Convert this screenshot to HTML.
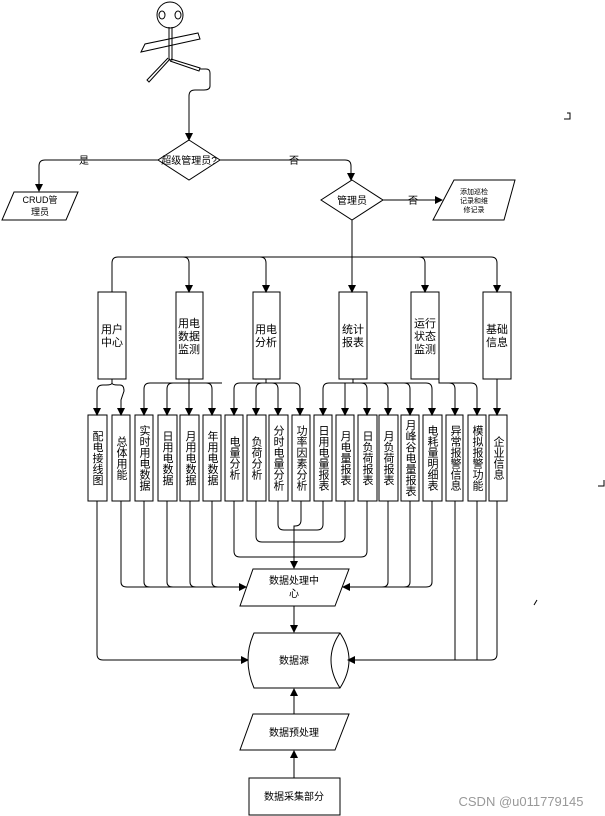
<!DOCTYPE html>
<html><head><meta charset="utf-8"><style>
html,body{margin:0;padding:0;background:#fff;}
svg{display:block;font-family:"Liberation Sans","Noto Sans CJK SC",sans-serif;}
</style></head><body>
<svg width="605" height="816" viewBox="0 0 605 816" xmlns="http://www.w3.org/2000/svg">
<defs><marker id="a" markerWidth="8" markerHeight="8" refX="7" refY="4" orient="auto" markerUnits="userSpaceOnUse"><path d="M0,0 L8,4 L0,8 z" fill="#000"/></marker></defs>
<g fill="none" stroke="#000" stroke-width="1">
<!-- stick figure -->
<circle cx="170" cy="15" r="13"/>
<ellipse cx="162" cy="15" rx="3" ry="4"/><ellipse cx="178" cy="15" rx="3" ry="4"/>
<path d="M141,52 L145,44 L198,33 L200,39 Z"/>
<path d="M169,27 L169,60 L172,60 L172,27"/>
<path d="M170,59 L149,82 L147,80 L168,58"/>
<path d="M171,59 L200,68 L199,71 L170,61"/>
<path d="M200,69 L206,69 Q210,69 210,73 L210,86 Q210,90 204,90 L195,90 Q189,90 189,96 L189,140" marker-end="url(#a)"/>
<!-- diamond 1 -->
<path d="M189,140 L220,160 L189,180 L158,160 Z"/>
<path d="M158,160 L45,160 Q39,160 39,166 L39,191" marker-end="url(#a)"/>
<path d="M220,160 L345,160 Q351,160 351,166 L351,180" marker-end="url(#a)"/>
<!-- CRUD -->
<path d="M14,192 L78,192 L66,220 L2,220 Z"/>
<!-- diamond 2 -->
<path d="M352,180 L383,200 L352,220 L321,200 Z"/>
<path d="M383,200 L442,200" marker-end="url(#a)"/>
<path d="M454,180 L515,180 L504,220 L433,220 Z"/>
<path d="M352,220 L352,292" marker-end="url(#a)"/>
<!-- bus -->
<path d="M112,292 L112,263 Q112,257 118,257 L491,257 Q497,257 497,263 L497,292" marker-end="url(#a)"/>
<path d="M183,257 Q189,257 189,263 L189,292" marker-end="url(#a)"/>
<path d="M260,257 Q266,257 266,263 L266,292" marker-end="url(#a)"/>
<path d="M419,257 Q425,257 425,263 L425,292" marker-end="url(#a)"/>
<!-- top boxes -->
<rect x="98" y="292" width="28" height="87"/>
<rect x="176" y="292" width="27" height="87"/>
<rect x="253" y="292" width="27" height="87"/>
<rect x="339" y="292" width="28" height="87"/>
<rect x="411" y="292" width="28" height="87"/>
<rect x="483" y="292" width="28" height="87"/>
<!-- second level branches -->
<path d="M112,379 L112,383 Q112,385 106,385 L103,385 Q97,385 97,391 L97,415" marker-end="url(#a)"/>
<path d="M112,383 Q112,385 118,385 L120,385 Q124,385 124,391 L121,400 L121,415" marker-end="url(#a)"/>
<path d="M189,379 L189,415" marker-end="url(#a)"/>
<path d="M150,383 L222,383"/>
<path d="M150,383 Q144,383 144,389 L144,415" marker-end="url(#a)"/>
<path d="M173,383 Q167,383 167,389 L167,415" marker-end="url(#a)"/>
<path d="M206,383 Q212,383 212,389 L212,415" marker-end="url(#a)"/>
<path d="M266,379 L266,383"/>
<path d="M240,383 L294,383"/>
<path d="M240,383 Q234,383 234,389 L234,415" marker-end="url(#a)"/>
<path d="M262,383 Q256,383 256,389 L256,415" marker-end="url(#a)"/>
<path d="M272,383 Q278,383 278,389 L278,415" marker-end="url(#a)"/>
<path d="M294,383 Q300,383 300,389 L300,415" marker-end="url(#a)"/>
<path d="M353,379 L353,383"/>
<path d="M329,383 L426,383"/>
<path d="M329,383 Q323,383 323,389 L323,415" marker-end="url(#a)"/>
<path d="M345,383 L345,415" marker-end="url(#a)"/>
<path d="M361,383 Q367,383 367,389 L367,415" marker-end="url(#a)"/>
<path d="M382,383 Q388,383 388,389 L388,415" marker-end="url(#a)"/>
<path d="M404,383 Q410,383 410,389 L410,415" marker-end="url(#a)"/>
<path d="M426,383 Q432,383 432,389 L432,415" marker-end="url(#a)"/>
<path d="M439,379 L439,383 L449,383 Q455,383 455,389 L455,415" marker-end="url(#a)"/>
<path d="M449,383 L471,383 Q477,383 477,389 L477,415" marker-end="url(#a)"/>
<path d="M497,379 L497,415" marker-end="url(#a)"/>
<!-- bottom boxes -->
<rect x="88" y="415" width="19" height="86"/>
<rect x="112" y="415" width="18" height="86"/>
<rect x="135" y="415" width="18" height="86"/>
<rect x="158" y="415" width="19" height="86"/>
<rect x="180" y="415" width="19" height="86"/>
<rect x="203" y="415" width="18" height="86"/>
<rect x="225" y="415" width="18" height="86"/>
<rect x="247" y="415" width="19" height="86"/>
<rect x="269" y="415" width="19" height="86"/>
<rect x="292" y="415" width="18" height="86"/>
<rect x="314" y="415" width="18" height="86"/>
<rect x="336" y="415" width="18" height="86"/>
<rect x="358" y="415" width="19" height="86"/>
<rect x="379" y="415" width="19" height="86"/>
<rect x="401" y="415" width="18" height="86"/>
<rect x="423" y="415" width="19" height="86"/>
<rect x="446" y="415" width="17" height="86"/>
<rect x="468" y="415" width="18" height="86"/>
<rect x="489" y="415" width="18" height="86"/>
<!-- lines to data processing center -->
<path d="M121,501 L121,582 Q121,587 127,587 L246,587" marker-end="url(#a)"/>
<path d="M144,501 L144,582 Q144,587 150,587"/>
<path d="M167,501 L167,582 Q167,587 173,587"/>
<path d="M190,501 L190,582 Q190,587 196,587"/>
<path d="M212,501 L212,582 Q212,587 218,587"/>
<path d="M432,501 L432,582 Q432,587 426,587 L343,587" marker-end="url(#a)"/>
<path d="M410,501 L410,582 Q410,587 404,587"/>
<path d="M388,501 L388,582 Q388,587 382,587"/>
<path d="M234,501 L234,551 Q234,557 240,557 L361,557 Q367,557 367,551 L367,501"/>
<path d="M256,501 L256,536 Q256,542 262,542 L339,542 Q345,542 345,536 L345,501"/>
<path d="M278,501 L278,524 Q278,530 284,530 L317,530 Q323,530 323,524 L323,501"/>
<path d="M301,501 L301,520 Q301,526 295,526 L294,526 L294,568" marker-end="url(#a)"/>
<path d="M97,501 L97,654 Q97,660 103,660 L248,660" marker-end="url(#a)"/>
<path d="M497,501 L497,654 Q497,660 491,660 L348,660" marker-end="url(#a)"/>
<path d="M455,501 L455,660"/>
<path d="M477,501 L477,660"/>
<!-- lower shapes -->
<path d="M253,569 L349,569 L335,606 L240,606 Z"/>
<path d="M294,606 L294,632" marker-end="url(#a)"/>
<path d="M254,633 L340,633 Q349,646 349,660 Q349,674 340,688 L254,688 Q248,674 248,660 Q248,646 254,633 Z"/>
<path d="M340,633 Q331,646 331,660 Q331,674 340,688"/>
<path d="M253,714 L349,714 L335,750 L240,750 Z"/>
<path d="M294,714 L294,689" marker-end="url(#a)"/>
<rect x="249" y="778" width="91" height="37"/>
<path d="M294,778 L294,751" marker-end="url(#a)"/>
<path d="M567,113 L570,113 L570,119 L564,119" />
<path d="M604,480 L604,486 L598,486"/>
<path d="M537,600 L534,605"/>
</g>
<g font-size="10" fill="#000" text-anchor="middle">
<text x="189" y="164" font-size="10">超级管理员?</text>
<text x="84" y="164">是</text>
<text x="294" y="164">否</text>
<text x="40" y="203" font-size="9">CRUD管</text>
<text x="40" y="215" font-size="9">理员</text>
<text x="352" y="204">管理员</text>
<text x="413" y="204">否</text>
<text x="474" y="194" font-size="7">添加巡检</text>
<text x="474" y="203" font-size="7">记录和维</text>
<text x="474" y="212" font-size="7">修记录</text>
<g font-size="11">
<text x="112" y="333">用户</text><text x="112" y="346">中心</text>
<text x="189" y="327">用电</text><text x="189" y="340">数据</text><text x="189" y="353">监测</text>
<text x="266" y="333">用电</text><text x="266" y="346">分析</text>
<text x="353" y="333">统计</text><text x="353" y="346">报表</text>
<text x="425" y="327">运行</text><text x="425" y="340">状态</text><text x="425" y="353">监测</text>
<text x="497" y="333">基础</text><text x="497" y="346">信息</text>
</g>
<g font-size="11" writing-mode="tb">
<text x="97" y="458">配电接线图</text>
<text x="121" y="458">总体用能</text>
<text x="144" y="458">实时用电数据</text>
<text x="167" y="458">日用电数据</text>
<text x="190" y="458">月用电数据</text>
<text x="212" y="458">年用电数据</text>
<text x="234" y="458">电量分析</text>
<text x="256" y="458">负荷分析</text>
<text x="278" y="458">分时电量分析</text>
<text x="301" y="458">功率因素分析</text>
<text x="323" y="458">日用电量报表</text>
<text x="345" y="458">月电量报表</text>
<text x="367" y="458">日负荷报表</text>
<text x="388" y="458">月负荷报表</text>
<text x="410" y="458">月峰谷电量报表</text>
<text x="432" y="458">电耗量明细表</text>
<text x="455" y="458">异常报警信息</text>
<text x="477" y="458">模拟报警功能</text>
<text x="498" y="458">企业信息</text>
</g>
<text x="294" y="584">数据处理中</text>
<text x="294" y="597">心</text>
<text x="294" y="664">数据源</text>
<text x="294" y="736">数据预处理</text>
<text x="294" y="800">数据采集部分</text>
<text x="521" y="806" font-size="13" fill="#999">CSDN @u011779145</text>
</g>
</svg>
</body></html>
